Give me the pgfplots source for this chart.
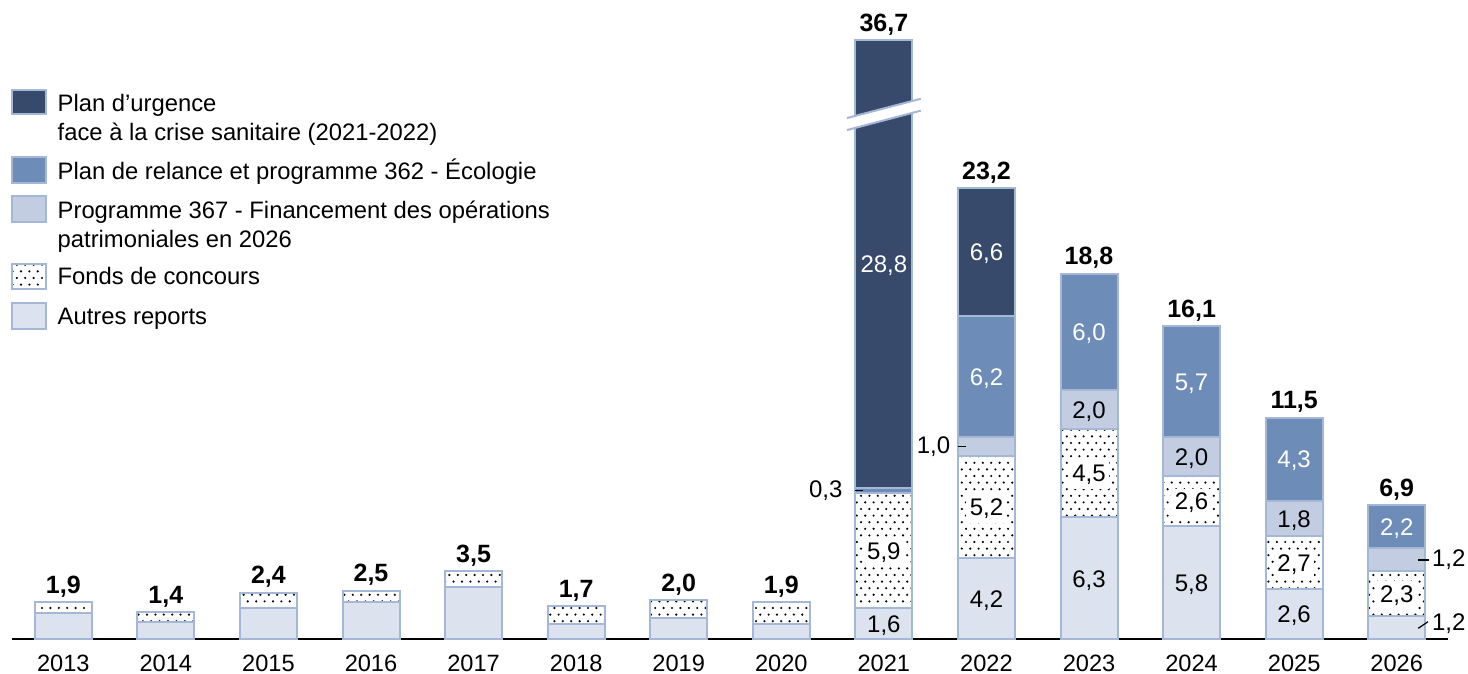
\documentclass[border=0pt]{standalone}
\usepackage{pgfplots}
\pgfplotsset{compat=1.18}
\usepackage{fontspec}
\setmainfont{Liberation Sans}
\usetikzlibrary{patterns}
\definecolor{urg}{HTML}{374A6B}
\definecolor{rel}{HTML}{6E8CB8}
\definecolor{pts}{HTML}{C3CDE1}
\definecolor{aut}{HTML}{DCE3EE}
\definecolor{brd}{HTML}{A4B7D6}
\pgfdeclarepatternformonly{fdots}{\pgfqpoint{-0.7pt}{-0.7pt}}{\pgfqpoint{3.5pt}{5.9pt}}{\pgfqpoint{4.2pt}{6.6pt}}{%
  \pgfpathcircle{\pgfqpoint{0pt}{0pt}}{0.6pt}%
  \pgfpathcircle{\pgfqpoint{2.1pt}{3.3pt}}{0.6pt}%
  \pgfusepath{fill}}
\pgfplotsset{frame/.style={
  at={(0,0)}, anchor=south west,
  scale only axis, width=718pt, height=319.65pt,
  xmin=-0.5, xmax=13.5, ymin=0, ymax=32.87, clip=false}}
\begin{document}
\begin{tikzpicture}[
  lab/.style={font=\fontsize{12}{14}\selectfont, anchor=base, yshift=-4.3pt, inner sep=0pt},
  wlab/.style={lab, text=white},
  dlab/.style={lab, fill=white, inner xsep=1.8pt, inner ysep=2.2pt},
  tot/.style={font=\fontsize{12.5}{15}\selectfont\bfseries, anchor=base, yshift=4.5pt, inner sep=0pt},
  leg/.style={font=\fontsize{11.9}{14}\selectfont, anchor=base west, inner sep=0pt},
  call/.style={font=\fontsize{12}{14}\selectfont, inner sep=0pt}
]
\useasboundingbox (-6pt,-17.35pt) rectangle (728pt,319.65pt);
\begin{axis}[
  frame,
  ybar stacked, bar width=28.5pt,
  hide y axis,
  axis x line=bottom,
  x axis line style={-, black, line width=1pt},
  xtick={0,...,13},
  xticklabels={2013,2014,2015,2016,2017,2018,2019,2020,2021,2022,2023,2024,2025,2026},
  major tick length=0pt,
  xticklabel style={font=\fontsize{11.8}{14}\selectfont, anchor=base, yshift=-16.2pt, inner sep=0pt},
  ytick=\empty,
  every axis plot/.append style={draw=brd, line width=1pt},
]
% Autres reports
\addplot[fill=aut] coordinates {(0,1.35) (1,0.9) (2,1.6) (3,1.9) (4,2.7) (5,0.8) (6,1.1) (7,0.8) (8,1.6) (9,4.2) (10,6.3) (11,5.8) (12,2.6) (13,1.2)};
% Fonds de concours
\addplot[fill=white, postaction={pattern=fdots}] coordinates {(0,0.55) (1,0.5) (2,0.8) (3,0.6) (4,0.8) (5,0.9) (6,0.9) (7,1.1) (8,5.9) (9,5.2) (10,4.5) (11,2.6) (12,2.7) (13,2.3)};
% Programme 367
\addplot[fill=pts] coordinates {(0,0) (1,0) (2,0) (3,0) (4,0) (5,0) (6,0) (7,0) (8,0) (9,1.0) (10,2.0) (11,2.0) (12,1.8) (13,1.2)};
% Plan de relance
\addplot[fill=rel] coordinates {(0,0) (1,0) (2,0) (3,0) (4,0) (5,0) (6,0) (7,0) (8,0.3) (9,6.2) (10,6.0) (11,5.7) (12,4.3) (13,2.2)};
% Plan d'urgence (2021 bar shown truncated: 28.8 drawn shorter)
\addplot[fill=urg] coordinates {(0,0) (1,0) (2,0) (3,0) (4,0) (5,0) (6,0) (7,0) (8,23.0) (9,6.6) (10,0) (11,0) (12,0) (13,0)};
\end{axis}

\begin{axis}[frame, hide axis]
% break on 2021
\fill[white] (axis cs:7.64,26.18) -- (axis cs:8.36,27.18) -- (axis cs:8.36,27.79) -- (axis cs:7.64,26.80) -- cycle;
\draw[brd, line width=1pt] (axis cs:7.64,26.18) -- (axis cs:8.36,27.18);
\draw[brd, line width=1pt] (axis cs:7.64,26.80) -- (axis cs:8.36,27.79);

% totals
\node[tot] at (axis cs:0,1.9) {1,9};
\node[tot] at (axis cs:1,1.4) {1,4};
\node[tot] at (axis cs:2,2.4) {2,4};
\node[tot] at (axis cs:3,2.5) {2,5};
\node[tot] at (axis cs:4,3.5) {3,5};
\node[tot] at (axis cs:5,1.7) {1,7};
\node[tot] at (axis cs:6,2.0) {2,0};
\node[tot] at (axis cs:7,1.9) {1,9};
\node[tot] at (axis cs:8,30.8) {36,7};
\node[tot] at (axis cs:9,23.2) {23,2};
\node[tot] at (axis cs:10,18.8) {18,8};
\node[tot] at (axis cs:11,16.1) {16,1};
\node[tot] at (axis cs:12,11.4) {11,5};
\node[tot] at (axis cs:13,6.9) {6,9};

% inside labels
\node[lab] at (axis cs:8,0.8) {1,6};
\node[dlab] at (axis cs:8,4.55) {5,9};
\node[wlab] at (axis cs:8,19.3) {28,8};
\node[lab] at (axis cs:9,2.1) {4,2};
\node[dlab] at (axis cs:9,6.8) {5,2};
\node[wlab] at (axis cs:9,13.5) {6,2};
\node[wlab] at (axis cs:9,19.9) {6,6};
\node[lab] at (axis cs:10,3.1) {6,3};
\node[dlab] at (axis cs:10,8.55) {4,5};
\node[lab] at (axis cs:10,11.8) {2,0};
\node[wlab] at (axis cs:10,15.8) {6,0};
\node[lab] at (axis cs:11,2.9) {5,8};
\node[dlab] at (axis cs:11,7.1) {2,6};
\node[lab] at (axis cs:11,9.4) {2,0};
\node[wlab] at (axis cs:11,13.25) {5,7};
\node[lab] at (axis cs:12,1.3) {2,6};
\node[dlab] at (axis cs:12,3.95) {2,7};
\node[lab] at (axis cs:12,6.2) {1,8};
\node[wlab] at (axis cs:12,9.25) {4,3};
\node[dlab] at (axis cs:13,2.35) {2,3};
\node[wlab] at (axis cs:13,5.8) {2,2};

% callouts
\draw[black, line width=0.6pt] (axis cs:7.722,7.64) -- (axis cs:7.80,7.64);
\node[call, anchor=east] at (axis cs:7.60,7.64) {0,3};
\draw[black, line width=0.6pt] (axis cs:8.722,9.9) -- (axis cs:8.80,9.9);
\node[call, anchor=east] at (axis cs:8.65,9.9) {1,0};
\draw[black, line width=0.6pt] (axis cs:13.207,4.08) -- (axis cs:13.315,4.08);
\node[call, anchor=west] at (axis cs:13.34,4.08) {1,2};
\draw[black, line width=0.6pt] (axis cs:13.21,0.566) -- (axis cs:13.305,0.905);
\node[call, anchor=west] at (axis cs:13.34,0.79) {1,2};
\end{axis}

% legend
\filldraw[fill=urg, draw=brd, line width=1pt] (0pt,262.65pt) rectangle (17pt,274.65pt);
\node[leg] at (22.65pt,263.8pt) {Plan d’urgence};
\node[leg] at (22.65pt,249.15pt) {face à la crise sanitaire (2021-2022)};
\filldraw[fill=rel, draw=brd, line width=1pt] (0pt,228.3pt) rectangle (17pt,241pt);
\node[leg] at (22.65pt,229.65pt) {Plan de relance et programme 362 - Écologie};
\filldraw[fill=pts, draw=brd, line width=1pt] (0pt,208.5pt) rectangle (17pt,221.65pt);
\node[leg] at (22.65pt,210.15pt) {Programme 367 - Financement des opérations};
\node[leg] at (22.65pt,195.8pt) {patrimoniales en 2026};
\fill[white] (0pt,175pt) rectangle (17pt,187.5pt);
\fill[pattern=fdots] (0pt,175pt) rectangle (17pt,187.5pt);
\draw[brd, line width=1pt] (0pt,175pt) rectangle (17pt,187.5pt);
\node[leg] at (22.65pt,177.15pt) {Fonds de concours};
\filldraw[fill=aut, draw=brd, line width=1pt] (0pt,155pt) rectangle (17pt,168pt);
\node[leg] at (22.65pt,157.15pt) {Autres reports};
\end{tikzpicture}
\end{document}
